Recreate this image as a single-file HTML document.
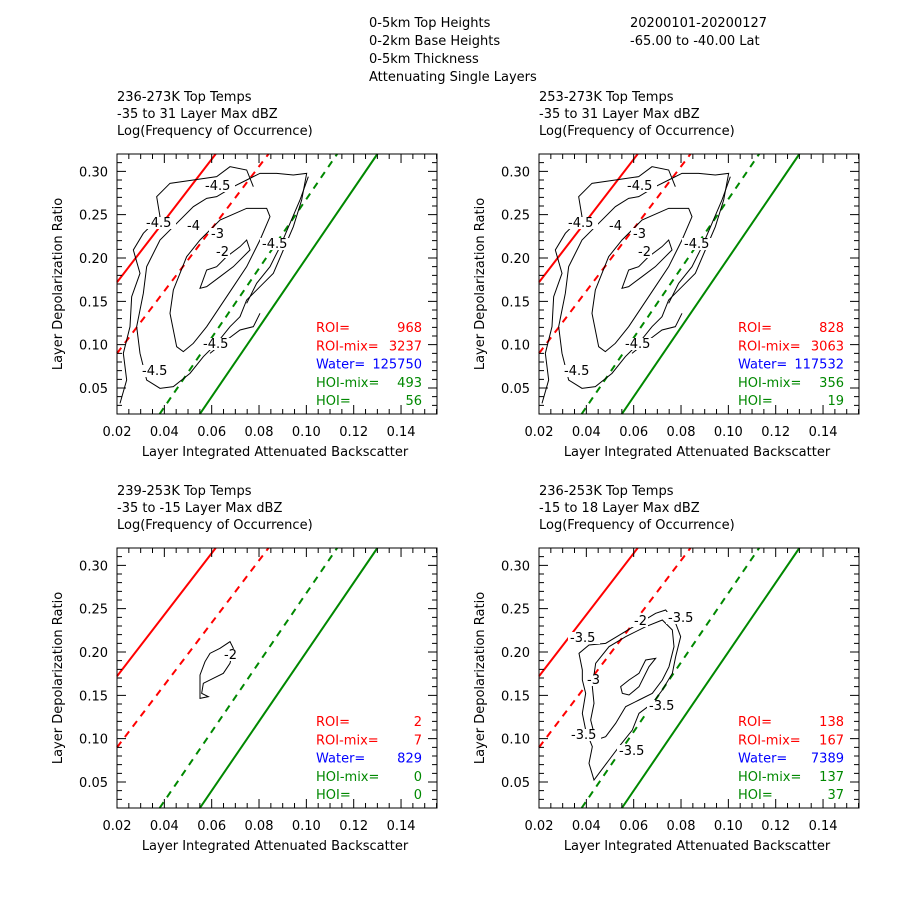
<!DOCTYPE html>
<html><head><meta charset="utf-8"><style>
body{margin:0;background:#fff;}
svg text{font-family:"DejaVu Sans","Liberation Sans",sans-serif;font-size:13px;}
</style></head><body>
<svg id="s" width="900" height="900" xmlns="http://www.w3.org/2000/svg">
<rect width="900" height="900" fill="#fff"/>
<text x="369" y="27">0-5km Top Heights</text>
<text x="369" y="45">0-2km Base Heights</text>
<text x="369" y="63">0-5km Thickness</text>
<text x="369" y="81">Attenuating Single Layers</text>
<text x="630" y="27">20200101-20200127</text>
<text x="630" y="45">-65.00 to -40.00 Lat</text>
</svg>
<script>
const S=document.getElementById('s');const NS='http://www.w3.org/2000/svg';
function el(t,a,txt){const e=document.createElementNS(NS,t);for(const k in a)e.setAttribute(k,a[k]);if(txt!==undefined)e.textContent=txt;S.appendChild(e);return e;}
const W=320,H=260,XU=2367,YU=866.7;
function panel(X0,Y0,titles,stats,contours,labels){
 const px=x=>X0+(x-0.02)*XU, py=y=>Y0+(0.32-y)*YU;
 titles.forEach((t,i)=>el('text',{x:X0,y:Y0-53+i*17},t));
 const ln=(x1,y1,x2,y2,c,d)=>el('line',{x1:px(x1),y1:py(y1),x2:px(x2),y2:py(y2),stroke:c,'stroke-width':2,'stroke-dasharray':d||'none'});
 ln(0.02,0.172,0.0617,0.32,'#f00');
 ln(0.02,0.09,0.084,0.32,'#f00','7,6');
 ln(0.038,0.02,0.113,0.32,'#080','7,6');
 ln(0.055,0.02,0.13,0.32,'#080');
 contours.forEach(c=>{const [ox,oy,pts,closed]=c;
  const p=pts.map(q=>(ox+q[0]/3)+','+(oy+q[1]/3)).join(' ');
  el(closed?'polygon':'polyline',{points:p,fill:'none',stroke:'#000','stroke-width':1});});
 labels.forEach(l=>{el('rect',{x:l[0]-2,y:l[1]-10,width:l[2].length*8,height:12,fill:'#fff'});el('text',{x:l[0],y:l[1]},l[2]);});
 el('rect',{x:X0,y:Y0,width:W,height:H,fill:'none',stroke:'#000','stroke-width':1});
 let d='';
 for(let i=0;i<=27;i++){const x=X0+i*0.005*XU;if(x>X0+W)break;const L=(i%4==0)?9:5;
  d+=`M${x},${Y0+H}v${-L}M${x},${Y0}v${L}`;
  if(i%4==0)el('text',{x:x,y:Y0+H+22,'text-anchor':'middle'},(0.02+i*0.005).toFixed(2));}
 for(let i=0;i<=30;i++){const v=0.02+i*0.01;const y=py(v);const maj=Math.abs(Math.round(v*100)%5)==0;const L=maj?9:5;
  d+=`M${X0},${y}h${L}M${X0+W},${y}h${-L}`;
  if(maj)el('text',{x:X0-9,y:y+5,'text-anchor':'end'},v.toFixed(2));}
 el('path',{d:d,stroke:'#000','stroke-width':1,fill:'none'});
 el('text',{x:X0+158,y:Y0+H+42,'text-anchor':'middle'},'Layer Integrated Attenuated Backscatter');
 el('text',{x:0,y:0,'text-anchor':'middle',transform:`translate(${X0-55},${Y0+130}) rotate(-90)`},'Layer Depolarization Ratio');
 const cols=['#f00','#f00','#00f','#080','#080'],nm=['ROI=','ROI-mix=','Water=','HOI-mix=','HOI='];
 stats.forEach((v,i)=>{el('text',{x:X0+199,y:Y0+178+i*18.3,fill:cols[i]},nm[i]);el('text',{x:X0+305,y:Y0+178+i*18.3,fill:cols[i],'text-anchor':'end'},v);});
}
const c1=[
 [60,140,[[350,620],[330,520],[340,450],[380,350],[420,300],[480,240],[560,205],[620,205],[630,230],[600,300],[560,380],[520,440],[480,500],[440,560],[400,610],[370,635]],true],
 [60,140,[[420,445],[440,390],[470,380],[500,350],[540,320],[560,300],[570,330],[520,380],[480,410],[440,440]],true],
 [60,140,[[260,720],[240,640],[230,560],[250,460],[260,380],[300,300],[340,260],[400,200],[440,175],[470,170],[520,140],[560,120],[600,100],[650,100],[700,105],[740,100],[725,180],[700,260],[670,330],[640,400],[600,440],[560,480],[540,530],[510,560],[470,610],[430,650],[390,700],[340,740],[300,745]],true],
 [60,140,[[180,790],[200,720],[190,640],[210,560],[215,470],[240,400],[220,330],[250,280],[300,230],[290,170],[330,130],[400,120],[470,110],[510,80],[560,90],[580,140]],false],
 [60,140,[[560,490],[590,430],[630,380],[660,320],[690,250],[720,180],[745,110]],false],
 [60,140,[[450,640],[500,600],[540,570],[580,560],[600,520]],false]
];
const l1=[[205,190,'-4.5'],[187,230,'-4'],[211,238,'-3'],[216,256,'-2'],[262,248,'-4.5'],[203,348,'-4.5'],[142,375,'-4.5'],[146,227,'-4.5']];
panel(117,154,['236-273K Top Temps','-35 to 31 Layer Max dBZ','Log(Frequency of Occurrence)'],['968','3237','125750','493','56'],c1,l1);
const c2=c1.map(c=>[c[0]+422,c[1],c[2],c[3]]);
const l2=l1.map(l=>[l[0]+422,l[1],l[2]]);
panel(539,154,['253-273K Top Temps','-35 to 31 Layer Max dBZ','Log(Frequency of Occurrence)'],['828','3063','117532','356','19'],c2,l2);
const c3=[[0,0,[[600,2025],[615,1985],[630,1960],[660,1945],[690,1925],[700,1945],[690,1990],[670,2020],[640,2035],[610,2050],[605,2080],[625,2090],[600,2095]],true]];
panel(117,548,['239-253K Top Temps','-35 to -15 Layer Max dBZ','Log(Frequency of Occurrence)'],['2','7','829','0','0'],c3,[[224,659,'-2']]);
const c4=[
 [539,580,[[130,270],[120,220],[150,195],[200,190],[250,160],[300,130],[350,100],[380,90],[410,130],[425,170],[410,230],[400,280],[370,330],[340,370],[300,400],[280,450],[240,500],[210,540],[180,580],[165,600],[150,550],[160,500],[140,450],[130,400],[140,340],[130,300]],true],
 [539,580,[[160,320],[170,250],[210,200],[260,170],[320,140],[370,120],[400,150],[405,200],[390,260],[370,300],[340,340],[300,360],[260,380],[230,430],[200,470],[170,480],[155,420],[165,370]],true],
 [539,580,[[245,320],[270,300],[300,280],[320,240],[350,235],[330,260],[300,320],[270,345],[250,340]],true]
];
panel(539,548,['236-253K Top Temps','-15 to 18 Layer Max dBZ','Log(Frequency of Occurrence)'],['138','167','7389','137','37'],c4,[[570,642,'-3.5'],[587,684,'-3'],[634,625,'-2'],[668,622,'-3.5'],[649,710,'-3.5'],[571,739,'-3.5'],[619,755,'-3.5']]);
</script>
</body></html>
